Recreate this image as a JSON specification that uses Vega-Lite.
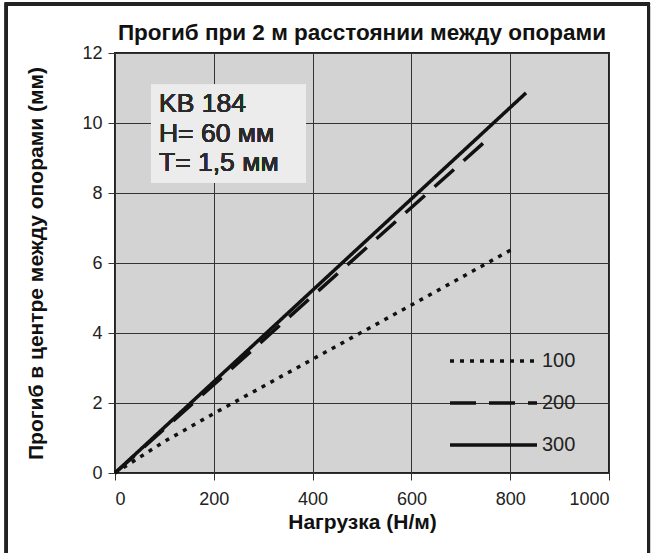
{
  "$schema": "https://vega.github.io/schema/vega-lite/v6.json",
  "width": 494,
  "height": 420,
  "autosize": {"type": "none"},
  "padding": {"left": 115, "top": 53, "right": 42, "bottom": 80},
  "background": "white",
  "title": {
    "text": "Прогиб при 2 м расстоянии между опорами",
    "font": "Liberation Sans",
    "fontWeight": "bold",
    "fontSize": 22.5,
    "color": "#111",
    "anchor": "middle",
    "frame": "group",
    "baseline": "alphabetic",
    "offset": -60
  },
  "data": {
    "values": [
      {"load": 0, "deflection": 0, "series": "100"},
      {"load": 100, "deflection": 0.9, "series": "100"},
      {"load": 200, "deflection": 1.7, "series": "100"},
      {"load": 400, "deflection": 3.25, "series": "100"},
      {"load": 600, "deflection": 4.8, "series": "100"},
      {"load": 805, "deflection": 6.4, "series": "100"},
      {"load": 0, "deflection": 0, "series": "200"},
      {"load": 757, "deflection": 9.57, "series": "200"},
      {"load": 0, "deflection": 0, "series": "300"},
      {"load": 832, "deflection": 10.86, "series": "300"}
    ]
  },
  "layer": [
    {
      "mark": {"type": "line", "color": "#111", "strokeWidth": 3.5, "strokeCap": "butt"},
      "encoding": {
        "x": {
          "field": "load",
          "type": "quantitative",
          "scale": {"domain": [0, 1000], "nice": false},
          "axis": {"values": [0, 200, 400, 600, 800, 1000], "format": "d", "title": "Нагрузка (Н/м)", "labelPadding": 10, "titlePadding": 3}
        },
        "y": {
          "field": "deflection",
          "type": "quantitative",
          "scale": {"domain": [0, 12], "nice": false},
          "axis": {"values": [0, 2, 4, 6, 8, 10, 12], "format": "d", "title": "Прогиб в центре между опорами (мм)", "labelPadding": 6, "titlePadding": 35}
        },
        "strokeDash": {
          "field": "series",
          "type": "nominal",
          "scale": {"domain": ["100", "200", "300"], "range": [[4, 6], [26, 13], [1, 0]]},
          "legend": {
            "orient": "none",
            "legendX": 333,
            "legendY": 298,
            "title": null,
            "symbolType": "stroke",
            "symbolSize": 7569,
            "symbolStrokeWidth": 3.5,
            "symbolStrokeColor": "#111",
            "clipHeight": 20,
            "rowPadding": 22,
            "labelFontSize": 20,
            "labelColor": "#222",
            "labelOffset": 3,
            "padding": 0
          }
        }
      }
    },
    {
      "mark": {"type": "rect", "fill": "#ececec"},
      "encoding": {
        "x": {"datum": 73, "type": "quantitative"},
        "x2": {"datum": 386},
        "y": {"datum": 11.09, "type": "quantitative"},
        "y2": {"datum": 8.29}
      }
    },
    {
      "mark": {"type": "text", "align": "left", "baseline": "alphabetic", "fontSize": 26.5, "fontWeight": 400, "lineHeight": 29.5, "color": "#2a2a2a", "font": "Liberation Sans"},
      "encoding": {
        "x": {"datum": 89, "type": "quantitative"},
        "y": {"datum": 10.31, "type": "quantitative"},
        "text": {"value": ["KB 184", "H= 60 мм", "T= 1,5 мм"]}
      }
    },
    {
      "mark": {"type": "rect", "fill": null, "stroke": "#222", "strokeWidth": 3, "clip": false},
      "encoding": {
        "x": {"datum": -220, "type": "quantitative"},
        "x2": {"datum": 1080},
        "y": {"datum": 13.4, "type": "quantitative"},
        "y2": {"datum": -2.5}
      }
    }
  ],
  "config": {
    "font": "Liberation Sans",
    "view": {"fill": "#d3d3d3", "stroke": "#222", "strokeWidth": 2},
    "axis": {
      "grid": true,
      "gridColor": "#333",
      "gridWidth": 1,
      "gridOpacity": 1,
      "domain": false,
      "tickColor": "#333",
      "tickSize": 7,
      "labelFontSize": 18,
      "labelColor": "#222",
      "labelFont": "Liberation Sans",
      "titleFont": "Liberation Sans",
      "titleFontSize": 21,
      "titleFontWeight": "bold",
      "titleColor": "#111"
    }
  }
}
